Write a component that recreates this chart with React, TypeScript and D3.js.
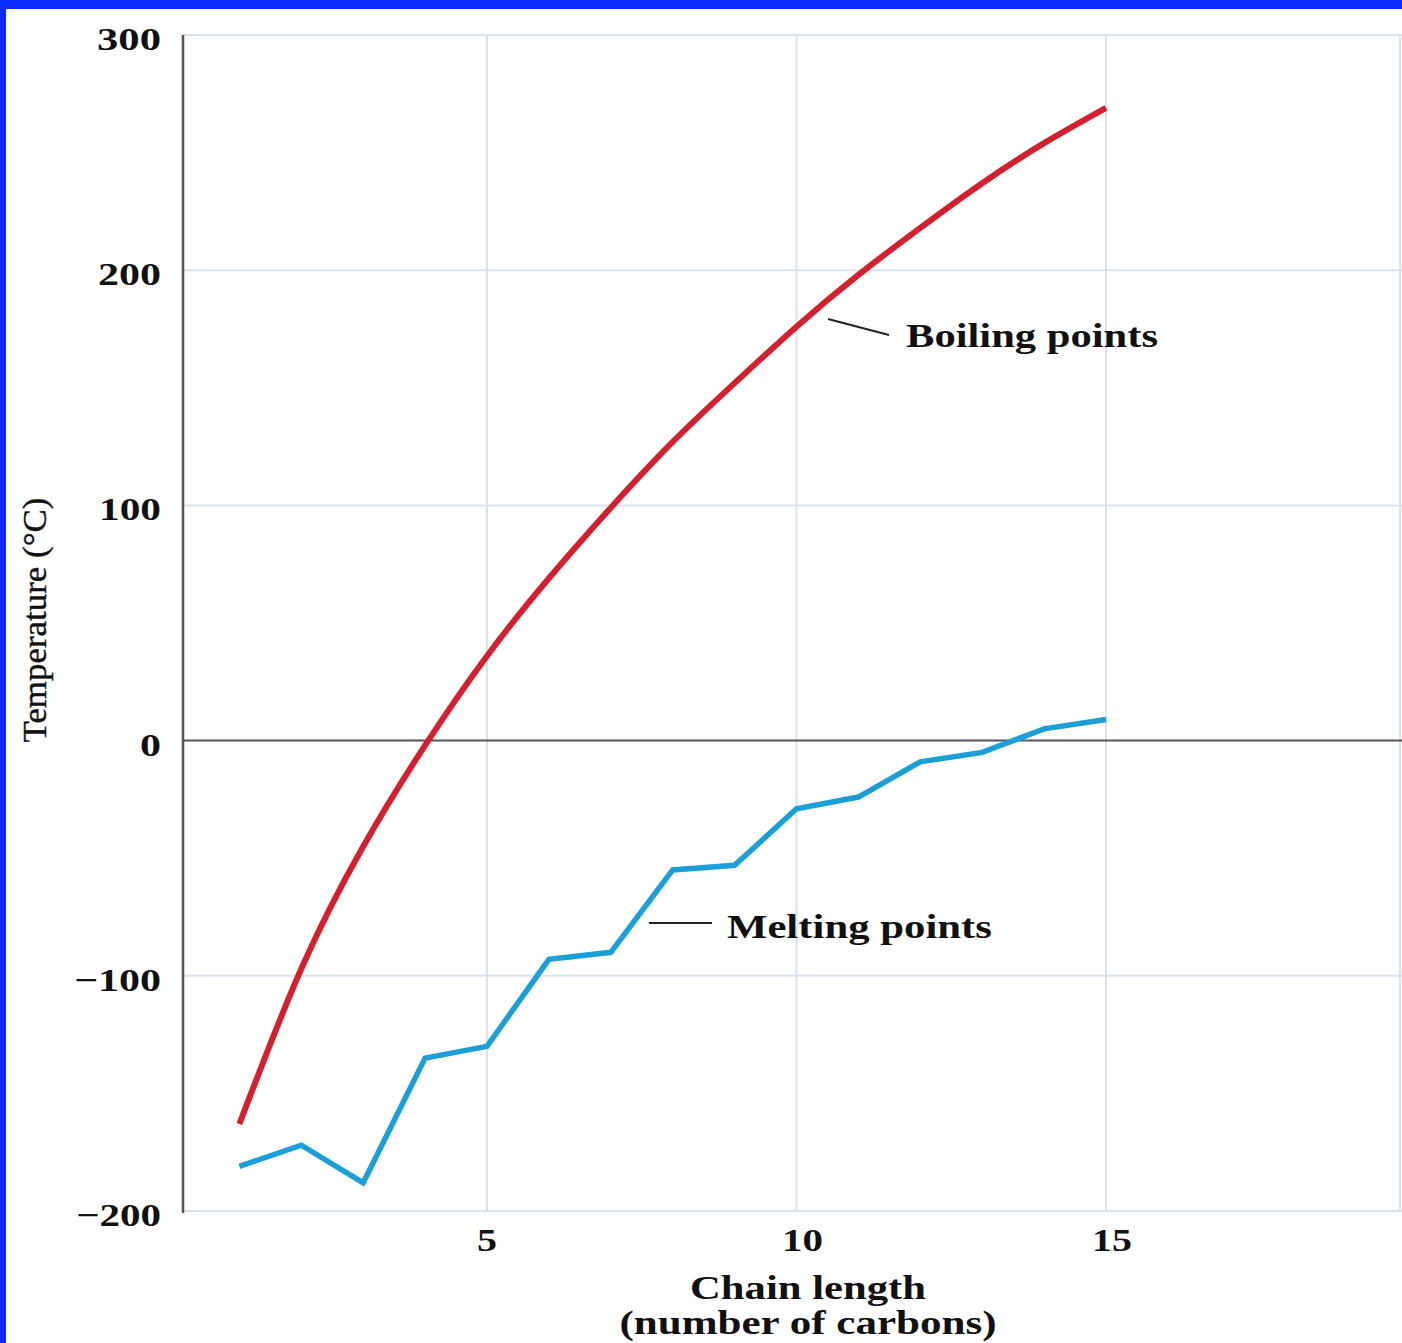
import React from "react";
import * as d3 from "d3";

const carbons = [1, 2, 3, 4, 5, 6, 7, 8, 9, 10, 11, 12, 13, 14, 15];
const boilingPoints = [-163, -97, -45, -2, 36, 69, 99, 127, 152, 176, 198, 218, 237, 254, 269];
const meltingPoints = [-181, -172, -188, -135, -130, -93, -90, -55, -53, -29, -24, -9, -5, 5, 9];
const xTicks = [5, 10, 15];
const yTicks = [300, 200, 100, 0, -100, -200];
const yTickLabels = ["300", "200", "100", "0", "\u2212100", "\u2212200"];
const yTickWidths = [64, 63, 62, 21, 87, 85];
const xTickWidths = [20, 41, 40];

const W = 1402;
const H = 1343;
const FONT = "'Liberation Serif', 'Times New Roman', serif";

export default function App() {
  const x = d3.scaleLinear().domain([5, 15]).range([487, 1106]);
  const y = d3.scaleLinear().domain([-200, 300]).range([1211, 35]);
  const left = 183;
  const right = 1400;

  const boilPath =
    d3
      .line<number>()
      .x((_, i) => x(carbons[i]))
      .y((d) => y(d))
      .curve(d3.curveNatural)(boilingPoints) || "";
  const meltPath =
    d3
      .line<number>()
      .x((_, i) => x(carbons[i]))
      .y((d) => y(d))
      .curve(d3.curveLinear)(meltingPoints) || "";

  const grid = "#d9e3ee";

  return (
    <svg
      width={W}
      height={H}
      style={{ position: "absolute", left: 0, top: 0, background: "#fff" }}
    >
      <rect x={0} y={0} width={W} height={H} fill="#fff" />
      {/* grid */}
      {yTicks
        .filter((t) => t !== 0)
        .map((t) => (
          <line key={"gy" + t} x1={left} x2={W} y1={y(t)} y2={y(t)} stroke={grid} strokeWidth={2} />
        ))}
      {xTicks.map((t) => (
        <line key={"gx" + t} x1={x(t)} x2={x(t)} y1={y(300)} y2={y(-200)} stroke={grid} strokeWidth={2} />
      ))}
      <line x1={right} x2={right} y1={y(300)} y2={y(-200)} stroke={grid} strokeWidth={2} />
      {/* zero line and y axis */}
      <line x1={left} x2={W} y1={y(0)} y2={y(0)} stroke="#555" strokeWidth={2} />
      <line x1={left} x2={left} y1={y(300)} y2={y(-200) + 2} stroke="#555" strokeWidth={2.5} />

      {/* series */}
      <path d={boilPath} fill="none" stroke="#d2202f" strokeWidth={6} />
      <path d={meltPath} fill="none" stroke="#1c9fd6" strokeWidth={5.5} strokeLinejoin="miter" />

      {/* y tick labels */}
      {yTicks.map((t, i) => (
        <text
          key={"yl" + t}
          x={161}
          y={y(t) + 15}
          textAnchor="end"
          fontFamily={FONT}
          fontWeight="bold"
          fontSize={32}
          textLength={yTickWidths[i]}
          lengthAdjust="spacingAndGlyphs"
          fill="#111"
        >
          {yTickLabels[i]}
        </text>
      ))}
      {/* x tick labels */}
      {xTicks.map((t, i) => (
        <text
          key={"xl" + t}
          x={x(t) + (i === 0 ? 0 : 6)}
          y={1251}
          textAnchor="middle"
          fontFamily={FONT}
          fontWeight="bold"
          fontSize={32}
          textLength={xTickWidths[i]}
          lengthAdjust="spacingAndGlyphs"
          fill="#111"
        >
          {String(t)}
        </text>
      ))}

      {/* axis titles */}
      <text
        x={808}
        y={1299}
        textAnchor="middle"
        fontFamily={FONT}
        fontWeight="bold"
        fontSize={33}
        textLength={236}
        lengthAdjust="spacingAndGlyphs"
        fill="#111"
      >
        Chain length
      </text>
      <text
        x={808}
        y={1334}
        textAnchor="middle"
        fontFamily={FONT}
        fontWeight="bold"
        fontSize={33}
        textLength={377}
        lengthAdjust="spacingAndGlyphs"
        fill="#111"
      >
        (number of carbons)
      </text>
      <text
        transform="translate(46,620) rotate(-90)"
        textAnchor="middle"
        fontFamily={FONT}
        fontSize={34}
        textLength={245}
        lengthAdjust="spacingAndGlyphs"
        fill="#111"
        stroke="#111"
        strokeWidth={0.4}
      >
        Temperature (°C)
      </text>

      {/* annotations */}
      <line x1={828} y1={319} x2={889} y2={335} stroke="#222" strokeWidth={2} />
      <text
        x={906}
        y={347}
        fontFamily={FONT}
        fontWeight="bold"
        fontSize={34}
        textLength={252}
        lengthAdjust="spacingAndGlyphs"
        fill="#111"
      >
        Boiling points
      </text>
      <line x1={649} y1={923} x2={712} y2={923} stroke="#222" strokeWidth={2} />
      <text
        x={727}
        y={938}
        fontFamily={FONT}
        fontWeight="bold"
        fontSize={34}
        textLength={265}
        lengthAdjust="spacingAndGlyphs"
        fill="#111"
      >
        Melting points
      </text>

      {/* blue frame */}
      <rect x={0} y={0} width={W} height={9} fill="#0c2cfc" />
      <rect x={0} y={0} width={6} height={H} fill="#0c2cfc" />
    </svg>
  );
}
